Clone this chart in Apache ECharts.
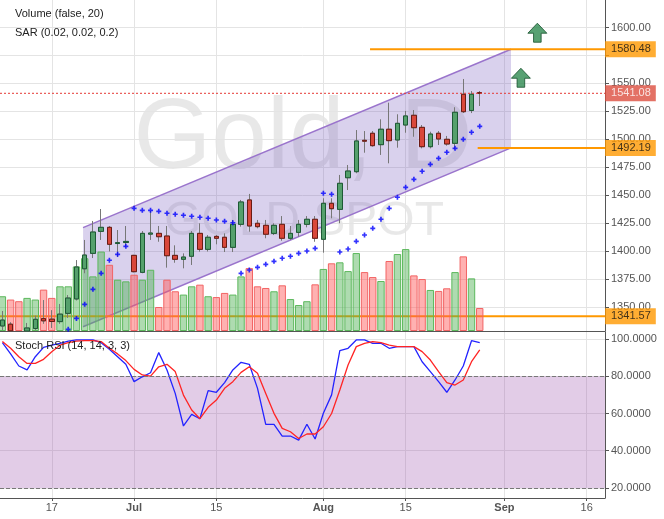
<!DOCTYPE html>
<html><head><meta charset="utf-8">
<script src="https://cdn.jsdelivr.net/npm/echarts@6/dist/echarts.min.js"></script>
<style>html,body{margin:0;padding:0;background:#fff}#c{width:664px;height:519px}</style>
</head><body><div id="c"></div>
<script>
// ---- trading days (categories) ----
const dates = [
 '2019-06-07','2019-06-10','2019-06-11','2019-06-12','2019-06-13','2019-06-14',
 '2019-06-17','2019-06-18','2019-06-19','2019-06-20','2019-06-21',
 '2019-06-24','2019-06-25','2019-06-26','2019-06-27','2019-06-28',
 '2019-07-01','2019-07-02','2019-07-03','2019-07-04','2019-07-05',
 '2019-07-08','2019-07-09','2019-07-10','2019-07-11','2019-07-12',
 '2019-07-15','2019-07-16','2019-07-17','2019-07-18','2019-07-19',
 '2019-07-22','2019-07-23','2019-07-24','2019-07-25','2019-07-26',
 '2019-07-29','2019-07-30','2019-07-31','2019-08-01','2019-08-02',
 '2019-08-05','2019-08-06','2019-08-07','2019-08-08','2019-08-09',
 '2019-08-12','2019-08-13','2019-08-14','2019-08-15','2019-08-16',
 '2019-08-19','2019-08-20','2019-08-21','2019-08-22','2019-08-23',
 '2019-08-26','2019-08-27','2019-08-28','2019-08-29','2019-08-30',
 '2019-09-02','2019-09-03','2019-09-04','2019-09-05','2019-09-06',
 '2019-09-09','2019-09-10','2019-09-11','2019-09-12','2019-09-13',
 '2019-09-16','2019-09-17','2019-09-18','2019-09-19','2019-09-20'
];
// ---- price series ----
const open = [1332.8,1334.4,1327.0,1328.3,1330.5,1339.4,1338.9,1336.7,1344.1,1357.0,
 1384.0,1397.8,1417.5,1421.1,1406.6,1407.5,1396.0,1380.8,1415.0,1415.7,
 1413.3,1396.0,1392.5,1395.2,1415.7,1401.4,1413.0,1412.2,1403.2,1423.8,
 1445.6,1424.7,1422.9,1415.7,1423.8,1411.3,1416.6,1423.8,1428.3,1410.4,
 1442.6,1437.2,1465.5,1470.9,1499.0,1505.3,1495.1,1508.9,1499.3,1512.7,
 1521.4,1510.6,1493.3,1505.3,1499.9,1496.3,1540.2,1525.7,1541.7];
const high = [1346.2,1336.2,1327.8,1335.5,1342.0,1356.0,1347.0,1352.5,1360.5,1391.8,
 1409.8,1426.8,1437.5,1422.3,1418.7,1422.3,1396.5,1417.8,1435.7,1422.3,
 1422.3,1405.0,1397.8,1417.8,1424.7,1414.2,1414.2,1415.7,1427.7,1445.6,
 1451.0,1427.7,1427.7,1424.7,1431.2,1422.3,1427.7,1431.2,1431.2,1447.1,
 1447.1,1468.0,1476.9,1508.2,1507.3,1507.3,1517.8,1532.7,1522.3,1525.3,
 1526.1,1512.7,1506.7,1507.3,1502.9,1528.6,1553.9,1543.1,1543.1];
const low = [1329.2,1328.5,1321.0,1328.5,1329.2,1334.7,1331.0,1334.7,1340.0,1355.6,
 1380.0,1393.6,1409.8,1399.5,1394.5,1403.8,1380.8,1380.0,1409.8,1408.2,
 1385.0,1389.4,1384.4,1387.4,1399.3,1399.5,1405.9,1399.0,1399.0,1421.7,
 1417.2,1420.2,1411.3,1414.2,1409.1,1409.8,1412.7,1421.1,1408.2,1398.4,
 1429.2,1424.7,1454.5,1469.5,1487.9,1493.3,1485.9,1478.4,1492.4,1505.8,
 1502.2,1491.8,1491.8,1494.8,1494.2,1490.9,1523.4,1523.4,1529.7];
const close = [1338.1,1328.5,1325.5,1331.0,1338.8,1337.4,1336.8,1343.4,1357.8,1385.6,
 1396.3,1416.9,1421.1,1405.9,1407.4,1408.5,1381.4,1415.7,1416.0,1412.7,
 1395.7,1392.5,1394.5,1415.7,1401.4,1412.2,1411.3,1403.2,1423.8,1443.8,
 1422.3,1421.7,1414.9,1422.9,1411.3,1415.7,1423.8,1428.3,1411.3,1442.6,
 1437.8,1460.5,1471.5,1498.4,1498.2,1494.2,1508.9,1498.7,1514.2,1520.8,
 1510.3,1493.3,1504.6,1500.2,1495.7,1524.1,1524.6,1540.2,1541.08];
const volume = [21,19,18,20,19,25,20,27,27,39,
 44,33,48,40,31,30,34,31,37,14.5,
 31,24,22,27,28,21,20.5,23,22,33,
 38,27,26,24,27.6,19.3,15.7,18,28.2,37.5,
 40.9,41.5,36.2,47.1,35.6,32.6,30.2,42.3,46.5,49.5,
 33.6,31.4,24.8,24.2,25.8,35.6,45.1,31.8,13.9];
const sar = [1318,1319.5,1321,1322.5,1324,1325,1326,1327,1329.8,1339.6,
 1352.2,1365.6,1379.9,1391.6,1396.9,1404.1,1438.1,1436.3,1436.3,1435.4,
 1433.7,1432.8,1431.9,1431.0,1430.1,1429.2,1427.7,1426.5,1425.2,1379.9,
 1382.9,1385.3,1388.0,1390.7,1393.4,1395.2,1397.8,1399.9,1402.3,1451.6,
 1450.7,1399.0,1401.7,1408.6,1414.2,1420.2,1428.3,1438.1,1448.0,1456.9,
 1464.1,1471.3,1477.5,1482.9,1488.3,1491.8,1499.9,1506.2,1511.5];
const stochK = [98,92,85.5,83.4,90.5,95.5,96.7,97.7,98.9,99.5,
 99.5,99.5,98,94.5,90.5,86.4,77.1,79.7,81.9,92.7,
 83.4,70.8,53.3,59.5,57.2,72.3,71.4,76.6,83.4,87.5,
 86.4,73.5,54.2,54.2,47.9,47.9,45.7,54.2,46.3,60.1,
 70,93.7,95.0,99.5,99.5,97.7,97.7,95.0,95.9,95.9,
 95.9,87.8,82.5,77.1,71.4,78.0,85.5,99.1,98.0];
const stochD = [98.6,95,90.5,86.9,86.9,89.1,93.2,96.7,98,98.9,
 99.1,99.1,98.6,95,92,88.4,83.7,80.7,80.1,85.1,
 86.4,82.5,69.9,61.9,57.2,63.3,67.2,73.5,77.1,82.1,
 85.1,81.6,70.8,60.1,52.0,50.2,46.6,49.0,49.0,52.9,
 60,72.6,86.0,95.9,97.7,98.6,98.0,96.7,95.9,95.9,
 95.9,93.2,88.7,82.5,76.6,75.3,78.0,87.8,94.1];
// ---- ticks ----
const priceTicks = [1350,1375,1400,1425,1450,1475,1500,1525,1550,1575,1600,1625];
const priceLabels = [1350,1375,1400,1425,1450,1475,1500,1525,1550,1600];
const stochTicks = [20,40,60,80,100];
const xTickDates = ['2019-06-17','2019-07-01','2019-07-15','2019-08-01','2019-08-15','2019-09-02','2019-09-16'];
const xTickLabels = ['17','Jul','15','Aug','15','Sep','16'];
// ---- drawings ----
const levelValues = [1580.48, 1541.08, 1492.19, 1341.57];
const levelStart = [44.67, null, 57.75, null]; // bar index where the ray starts (null = full width)
const channelX = [9.8, 61.8];
const channelTop = [1420.8, 1580.48];
const channelBottom = [1332.1, 1492.19];
const arrowDates = ['2019-09-04','2019-09-06'];
const arrowPrices = [1555, 1595.3];

// ---- layout ----
const X_MIN = -0.29, X_MAX = 73.22;
const FONT = "'Liberation Sans', Arial, sans-serif";
const idx = d => dates.indexOf(d);
const xTicks = xTickDates.map(idx);

const ohlc = open.map((o,i)=>[i, o, close[i], low[i], high[i]]);
const bodies = open.map((o,i)=>[i, o, close[i], Math.min(o,close[i]), Math.max(o,close[i])]);
const volData = volume.map((v,i)=>({value:[i,v], itemStyle: close[i]>=open[i]
  ? {color:'rgba(76,175,80,0.45)', borderColor:'#5cb85c', borderWidth:1}
  : {color:'rgba(255,82,82,0.45)', borderColor:'#f26464', borderWidth:1}}));

function xAxisCfg(grid, showLabels){
  return {
    type:'value', gridIndex:grid, min:X_MIN, max:X_MAX,
    axisLine:{show:true, onZero:false, lineStyle:{color:'#555', width:1}},
    axisTick:{show:showLabels, length:3, customValues:xTicks, lineStyle:{color:'#555'}},
    axisLabel:{show:showLabels, customValues:xTicks, margin:4, color:'#555', fontSize:11, fontFamily:FONT,
      formatter: v => { const t = xTickLabels[xTicks.indexOf(Math.round(v))] || ''; return /^[A-Z]/.test(t) ? '{b|'+t+'}' : t; },
      rich:{b:{fontWeight:'bold', color:'#555', fontSize:11, fontFamily:FONT}}},
    splitLine:{show:true, lineStyle:{color:'#e4e4e4', width:1}}
  };
}

const levelLine = (k, style) => ({
  type:'line', xAxisIndex:0, yAxisIndex:0, silent:true, symbol:'none', z: k===3 ? 2 : 7,
  data:[[levelStart[k]==null ? X_MIN : levelStart[k], levelValues[k]], [X_MAX, levelValues[k]]],
  lineStyle: style
});

const option = {
  animation:false,
  backgroundColor:'#fff',
  textStyle:{fontFamily:FONT},
  grid:[
    {left:0, right:59, top:0, height:331, outerBoundsMode:'none', containLabel:false},
    {left:0, right:59, top:332, height:166, outerBoundsMode:'none', containLabel:false}
  ],
  xAxis:[xAxisCfg(0,false), xAxisCfg(1,true)],
  yAxis:[
    {type:'value', gridIndex:0, position:'right', min:1328.3, max:1624.6,
     axisLine:{show:true, onZero:false, lineStyle:{color:'#555'}},
     axisTick:{show:true, length:4, customValues:priceTicks, lineStyle:{color:'#555'}},
     axisLabel:{customValues:priceLabels, formatter:v=>v.toFixed(2), color:'#555', fontSize:11, fontFamily:FONT, margin:6},
     splitLine:{show:true, lineStyle:{color:'#e4e4e4'}}},
    {type:'value', gridIndex:0, min:0, max:200, show:false},
    {type:'value', gridIndex:1, position:'right', min:14.63, max:103.76,
     axisLine:{show:true, onZero:false, lineStyle:{color:'#555'}},
     axisTick:{show:true, length:4, customValues:stochTicks, lineStyle:{color:'#555'}},
     axisLabel:{customValues:stochTicks, formatter:v=>v.toFixed(4), color:'#555', fontSize:11, fontFamily:FONT, margin:6},
     splitLine:{show:true, lineStyle:{color:'#e4e4e4'}}}
  ],
  graphic:[
    {type:'text', x:303, y:140, z:0, silent:true, style:{text:'Gold, D', font:'100px '+FONT, fill:'rgba(0,0,0,0.09)', align:'center', verticalAlign:'middle'}},
    {type:'text', x:304, y:222, z:0, silent:true, style:{text:'GOLD SPOT', font:'48px '+FONT, fill:'rgba(0,0,0,0.09)', align:'center', verticalAlign:'middle'}},
    {type:'text', x:15, y:14, z:100, silent:true, style:{text:'Volume (false, 20)', font:'11px '+FONT, fill:'#222', verticalAlign:'middle'}},
    {type:'text', x:15, y:32.5, z:100, silent:true, style:{text:'SAR (0.02, 0.02, 0.2)', font:'11px '+FONT, fill:'#222', verticalAlign:'middle'}},
    {type:'text', x:15, y:346, z:100, silent:true, style:{text:'Stoch RSI (14, 14, 3, 3)', font:'11px '+FONT, fill:'#222', verticalAlign:'middle'}}
  ],
  series:[
    {type:'custom', name:'channel', xAxisIndex:0, yAxisIndex:0, z:1, silent:true,
     data:[[channelX[0], channelTop[0], channelX[1], channelTop[1], channelBottom[0], channelBottom[1]]],
     encode:{x:[0,2], y:[1,3,4,5]},
     renderItem:(params, api)=>{
       const tl = api.coord([api.value(0), api.value(1)]);
       const tr = api.coord([api.value(2), api.value(3)]);
       const br = api.coord([api.value(2), api.value(5)]);
       const bl = api.coord([api.value(0), api.value(4)]);
       return {type:'group', children:[
         {type:'polygon', shape:{points:[tl,tr,br,bl]}, style:{fill:'rgba(120,90,190,0.28)', stroke:null}},
         {type:'polyline', shape:{points:[tl,tr]}, style:{stroke:'#9a74cc', lineWidth:1.5, fill:null}},
         {type:'polyline', shape:{points:[bl,br]}, style:{stroke:'#9a74cc', lineWidth:1.5, fill:null}}
       ]};
     }},
    levelLine(3, {color:'#ff9800', width:2}),
    {type:'bar', name:'Volume', xAxisIndex:0, yAxisIndex:1, z:3, barWidth:7.4, data:volData, silent:true},
    {type:'candlestick', name:'wicks', xAxisIndex:0, yAxisIndex:0, z:4, barWidth:5, clip:true, silent:true,
     encode:{x:0, y:[1,2,3,4]}, data:ohlc,
     itemStyle:{color:'rgba(0,0,0,0)', color0:'rgba(0,0,0,0)', borderColor:'#777', borderColor0:'#777', borderWidth:1}},
    {type:'candlestick', name:'Gold', xAxisIndex:0, yAxisIndex:0, z:5, barWidth:5, clip:true, silent:true,
     encode:{x:0, y:[1,2,3,4]}, data:bodies,
     itemStyle:{color:'#55a06c', color0:'#d9473a', borderColor:'#1d5a35', borderColor0:'#6b1b14', borderWidth:1}},
    {type:'scatter', name:'SAR', xAxisIndex:0, yAxisIndex:0, z:6, clip:true, silent:true,
     symbol:'path://M2,0H4V2H6V4H4V6H2V4H0V2H2Z', symbolSize:5,
     itemStyle:{color:'#0000ff'}, data:sar.map((v,i)=>[i,v])},
    {type:'scatter', name:'arrows', xAxisIndex:0, yAxisIndex:0, z:6, silent:true,
     symbol:'path://M10,0L20,10L14,10L14,19L6,19L6,10L0,10Z', symbolSize:[19,19],
     itemStyle:{color:'#2e8a50', borderColor:'#17502c', borderWidth:1},
     data:arrowDates.map((d,k)=>[idx(d), arrowPrices[k]])},
    levelLine(0, {color:'#ff9800', width:2}),
    levelLine(2, {color:'#ff9800', width:2}),
    levelLine(1, {color:'#e53935', width:1, type:[2,2]}),
    {type:'scatter', name:'levelLabels', xAxisIndex:0, yAxisIndex:0, z:10, clip:false, silent:true,
     symbol:'rect', symbolSize:0.1, itemStyle:{color:'rgba(0,0,0,0)'},
     data: levelValues.map((v,k)=>({value:[X_MAX, v], label:{show:true, position:'right', distance:0,
       formatter: v.toFixed(2), backgroundColor: k===1 ? '#dc4e3f' : '#ff9800', color: k===1 ? '#fff' : '#111',
       padding:[3,5,2,6], fontSize:11, lineHeight:11, fontFamily:FONT}}))},
    {type:'line', name:'%K', xAxisIndex:1, yAxisIndex:2, z:3, symbol:'none', silent:true,
     data:stochK.map((v,i)=>[i,v]), lineStyle:{color:'#2323ff', width:1.3},
     markArea:{silent:true, label:{show:false}, itemStyle:{color:'rgba(140,50,160,0.25)'}, data:[[{yAxis:20},{yAxis:80}]]},
     markLine:{silent:true, symbol:'none', label:{show:false}, lineStyle:{color:'#777', type:'dashed', width:1}, data:[{yAxis:80},{yAxis:20}]}},
    {type:'line', name:'%D', xAxisIndex:1, yAxisIndex:2, z:3, symbol:'none', silent:true,
     data:stochD.map((v,i)=>[i,v]), lineStyle:{color:'#ff2424', width:1.3}}
  ]
};
const chart = echarts.init(document.getElementById('c'));
chart.setOption(option);
</script></body></html>
